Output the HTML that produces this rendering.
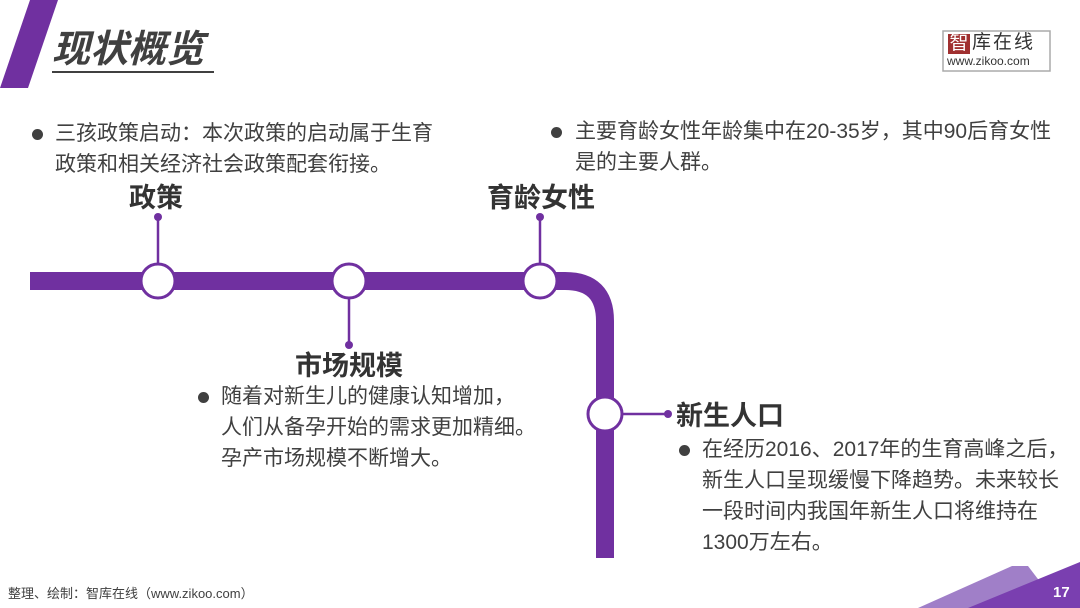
<!DOCTYPE html>
<html><head><meta charset="utf-8"><style>
body{margin:0;width:1080px;height:608px;overflow:hidden;background:#fff;font-family:"Liberation Sans","Noto Sans CJK SC",sans-serif;position:relative}
.t{position:absolute;color:#404040;font-size:21px;line-height:31px;white-space:nowrap}
.h{position:absolute;color:#333;font-size:27px;font-weight:bold;white-space:nowrap;line-height:30px}
.b{position:absolute;width:11px;height:11px;border-radius:50%;background:#404040}
</style></head><body>
<svg width="1080" height="608" style="position:absolute;left:0;top:0">
<polygon points="30,0 58,0 28,88 0,88" fill="#7030a0"/>
<line x1="52" y1="72" x2="214" y2="72" stroke="#404040" stroke-width="2"/>
<polygon points="918,608 1012,566 1028,566 1060,608" fill="#a07fc8"/>
<polygon points="968,608 1080,562 1080,608" fill="#7a3fb0"/>
<path d="M30,281 H565 Q605,281 605,321 V558" fill="none" stroke="#7030a0" stroke-width="18"/>
<g stroke="#7030a0" stroke-width="2.5">
<line x1="158" y1="217" x2="158" y2="265"/>
<line x1="540" y1="217" x2="540" y2="265"/>
<line x1="349" y1="297" x2="349" y2="345"/>
<line x1="621" y1="414" x2="668" y2="414"/>
</g>
<g fill="#7030a0"><circle cx="158" cy="217" r="4"/><circle cx="540" cy="217" r="4"/><circle cx="349" cy="345" r="4"/><circle cx="668" cy="414" r="4"/></g>
<g fill="#fff" stroke="#7030a0" stroke-width="3">
<circle cx="158" cy="281" r="17"/><circle cx="349" cy="281" r="17"/><circle cx="540" cy="281" r="17"/><circle cx="605" cy="414" r="17"/>
</g>
<rect x="943" y="31" width="107" height="40" fill="#fff" stroke="#aaa" stroke-width="1.5"/>
<rect x="948" y="34" width="22" height="20" fill="#a03030"/>
</svg>
<div style="position:absolute;left:52px;top:28px;font-size:38px;font-weight:bold;font-style:italic;color:#404040;line-height:44px">现状概览</div>
<div style="position:absolute;left:948px;top:33px;font-size:19px;color:#fff;line-height:22px;width:22px;text-align:center">智</div>
<div style="position:absolute;left:972px;top:32px;font-size:19px;color:#333;line-height:22px;letter-spacing:2px">库在线</div>
<div style="position:absolute;left:947px;top:54px;font-size:12px;color:#333;line-height:14px">www.zikoo.com</div>

<div class="b" style="left:32px;top:129px"></div>
<div class="t" style="left:55px;top:118px">三孩政策启动：本次政策的启动属于生育<br>政策和相关经济社会政策配套衔接。</div>
<div class="h" style="left:129px;top:183px">政策</div>

<div class="b" style="left:551px;top:127px"></div>
<div class="t" style="left:575px;top:116px">主要育龄女性年龄集中在20-35岁，其中90后育女性<br>是的主要人群。</div>
<div class="h" style="left:487px;top:183px">育龄女性</div>

<div class="h" style="left:295px;top:351px">市场规模</div>
<div class="b" style="left:198px;top:392px"></div>
<div class="t" style="left:221px;top:381px">随着对新生儿的健康认知增加，<br>人们从备孕开始的需求更加精细。<br>孕产市场规模不断增大。</div>

<div class="h" style="left:676px;top:401px">新生人口</div>
<div class="b" style="left:679px;top:445px"></div>
<div class="t" style="left:702px;top:434px">在经历2016、2017年的生育高峰之后，<br>新生人口呈现缓慢下降趋势。未来较长<br>一段时间内我国年新生人口将维持在<br>1300万左右。</div>

<div style="position:absolute;left:8px;top:585px;font-size:13px;color:#404040;line-height:18px">整理、绘制：智库在线（www.zikoo.com）</div>
<div style="position:absolute;left:1053px;top:583px;font-size:15px;font-weight:bold;color:#fff;line-height:20px">17</div>
</body></html>
